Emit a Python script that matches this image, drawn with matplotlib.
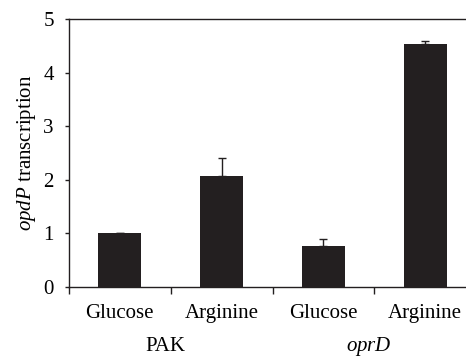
import matplotlib
matplotlib.use('Agg')
import matplotlib.pyplot as plt
import numpy as np

plt.rcParams['font.family'] = ['Liberation Serif', 'DejaVu Serif']
plt.rcParams['mathtext.fontset'] = 'custom'
plt.rcParams['mathtext.it'] = 'Liberation Serif:italic'
plt.rcParams['mathtext.rm'] = 'Liberation Serif'

# Data
conditions = ['Glucose', 'Arginine', 'Glucose', 'Arginine']
strains = ['PAK', 'oprD']
values = [1.0, 2.07, 0.77, 4.53]
errors = [0.0, 0.34, 0.13, 0.05]

dark = '#231f20'

fig = plt.figure(figsize=(4.66, 3.58), dpi=100)
ax = fig.add_axes([0.148, 0.198, 0.852, 0.749])

x = np.arange(len(values))
ax.bar(x, values, width=0.42, color=dark, zorder=2)
ax.errorbar(x, values, yerr=[[0] * len(errors), errors], fmt='none',
            ecolor=dark, elinewidth=1, capsize=3, capthick=1, zorder=3)

ax.set_xlim(-0.5, 3.4)
ax.set_ylim(0, 5)
ax.set_yticks([0, 1, 2, 3, 4, 5])

ax.set_xticks(x)
ax.set_xticklabels(conditions, fontsize=15)
ax.set_xticks([-0.5, 0.5, 1.5, 2.5], minor=True)
ax.tick_params(axis='x', which='major', length=0, pad=12)
ax.tick_params(axis='x', which='minor', length=5, width=1, color=dark)
ax.tick_params(axis='y', length=3, width=1, color=dark, labelsize=15, pad=8)

for side in ['left', 'bottom', 'top']:
    ax.spines[side].set_color(dark)
    ax.spines[side].set_linewidth(1)
ax.spines['right'].set_visible(False)

ax.set_ylabel(r'$\mathit{opdP}$ transcription', fontsize=15, labelpad=4)

# Strain labels under the condition labels
ax.text(0.45, -0.22, strains[0], transform=ax.get_xaxis_transform(),
        ha='center', va='center', fontsize=15)
ax.text(2.45, -0.22, r'$\mathit{oprD}$', transform=ax.get_xaxis_transform(),
        ha='center', va='center', fontsize=15)

fig.savefig('out.png', dpi=100)
